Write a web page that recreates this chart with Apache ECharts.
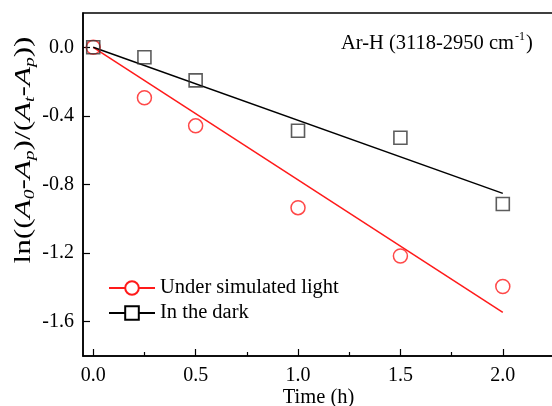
<!DOCTYPE html>
<html>
<head>
<meta charset="utf-8">
<script src="https://cdn.jsdelivr.net/npm/echarts@6/dist/echarts.min.js"></script>
<style>
  html, body { margin: 0; padding: 0; background: #fff; }
  #chart { width: 552px; height: 406px; }
</style>
</head>
<body>
<div id="chart"></div>
<script>
// valores
const timeH = [0, 0.25, 0.5, 1.0, 1.5, 2.0];
const lightVals = [0, -0.294, -0.458, -0.935, -1.217, -1.395];
const darkVals = [0, -0.058, -0.193, -0.487, -0.527, -0.914];

// rectas de ajuste (extremos)
const fitTime = [0, 2.0];
const lightFit = [0, -1.546];
const darkFit = [0, -0.852];

const xMajor = [0, 0.5, 1.0, 1.5, 2.0];
const xMinor = [0.25, 0.75, 1.25, 1.75];
const yMajor = [-1.6, -1.2, -0.8, -0.4, 0.0];

const nameLight = 'Under simulated light';
const nameDark = 'In the dark';

const FONT = "'Liberation Serif', 'Times New Roman', serif";
const RED = '#ff1a1a';
const DARK = '#333333';

const pairs = (xs, ys) => xs.map((x, i) => [x, ys[i]]);

const chart = echarts.init(document.getElementById('chart'), null, { renderer: 'canvas' });

const axisText = { color: '#000', fontFamily: FONT, fontSize: 20 };

chart.setOption({
  animation: false,
  backgroundColor: '#fff',
  grid: {
    left: 83, top: 13, right: -2, bottom: 50,
    outerBoundsMode: 'none', containLabel: false,
    show: true, borderColor: '#000', borderWidth: 1.5, backgroundColor: 'transparent'
  },
  xAxis: [{
    type: 'value', min: -0.05, max: 2.25,
    axisLine: { show: true, onZero: false, lineStyle: { color: '#000', width: 1.5 } },
    axisTick: { show: true, inside: true, length: 7, lineStyle: { color: '#000', width: 1.2 }, customValues: xMajor },
    axisLabel: { ...axisText, margin: 10, customValues: xMajor, formatter: v => v.toFixed(1) },
    splitLine: { show: false },
    name: 'Time (h)', nameLocation: 'middle', nameGap: 31, nameMoveOverlap: false,
    nameTextStyle: { ...axisText, fontSize: 20.5 }
  }, {
    type: 'value', min: -0.05, max: 2.25, position: 'bottom',
    axisLine: { show: false, onZero: false },
    axisTick: { show: true, inside: true, length: 4, lineStyle: { color: '#000', width: 1.2 }, customValues: xMinor },
    axisLabel: { show: false },
    splitLine: { show: false }
  }],
  yAxis: {
    type: 'value', min: -1.8, max: 0.2,
    axisLine: { show: true, onZero: false, lineStyle: { color: '#000', width: 1.5 } },
    axisTick: { show: true, inside: true, length: 7, lineStyle: { color: '#000', width: 1.2 }, customValues: yMajor },
    axisLabel: { ...axisText, margin: 9, customValues: yMajor, formatter: v => v.toFixed(1) },
    splitLine: { show: false }
  },
  legend: {
    data: [nameLight, nameDark],
    orient: 'vertical', left: 108, top: 277, padding: 0,
    itemWidth: 46, itemHeight: 17, itemGap: 3,
    textStyle: { color: '#000', fontFamily: FONT, fontSize: 20.5, lineHeight: 22 },
    selectedMode: false
  },
  graphic: [{
    type: 'text', x: 341, y: 44,
    style: {
      text: '{n|Ar-H (3118-2950 cm}{sup|-1}{n|)}',
      align: 'left', verticalAlign: 'middle',
      rich: {
        n: { fontFamily: FONT, fontSize: 20.5, fill: '#000' },
        sup: { fontFamily: FONT, fontSize: 12, fill: '#000', padding: [0, 1, 14, 1] }
      }
    }
  }, {
    // título del eje Y, algo estirado a lo largo como en la figura original
    type: 'text', x: 24, y: 150, rotation: Math.PI / 2, scaleX: 1.3,
    style: {
      text: '{n|ln((}{i|A}{s|0}{n|-}{i|A}{s|p}{n|)/(}{i|A}{s|t}{n|-}{i|A}{s|p}{n|))}',
      align: 'center', verticalAlign: 'middle',
      rich: {
        n: { fontFamily: FONT, fontSize: 24, fill: '#000' },
        i: { fontFamily: FONT, fontSize: 24, fontStyle: 'italic', fill: '#000' },
        s: { fontFamily: FONT, fontSize: 15, fontStyle: 'italic', fill: '#000', padding: [12, 0, 0, 0] }
      }
    }
  }],
  series: [{
    name: nameLight, type: 'line',
    data: pairs(fitTime, lightFit),
    showSymbol: false, symbol: 'emptyCircle', symbolSize: 14,
    color: RED, lineStyle: { color: RED, width: 1.5 }, z: 2
  }, {
    name: nameDark, type: 'line',
    data: pairs(fitTime, darkFit),
    showSymbol: false, symbol: 'emptyRect', symbolSize: 14,
    color: '#000', lineStyle: { color: '#000', width: 1.5 }, z: 2
  }, {
    name: 'light-pts', type: 'scatter',
    data: pairs(timeH, lightVals),
    symbol: 'circle', symbolSize: 14,
    itemStyle: { color: 'rgba(0,0,0,0)', borderColor: RED, borderWidth: 1.5 }, z: 3
  }, {
    name: 'dark-pts', type: 'scatter',
    data: pairs(timeH, darkVals),
    symbol: 'rect', symbolSize: 13,
    itemStyle: { color: 'rgba(0,0,0,0)', borderColor: DARK, borderWidth: 1.6 }, z: 4
  }]
});
</script>
</body>
</html>
